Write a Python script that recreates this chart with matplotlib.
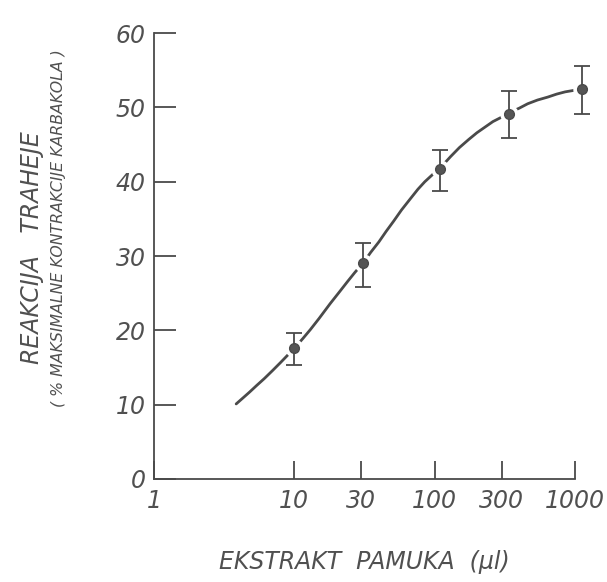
import numpy as np
import matplotlib
matplotlib.use("Agg")
import matplotlib.pyplot as plt

# measured points (extract volume in ul, tracheal response %)
dose = [10, 31, 110, 340, 1130]
resp = [17.6, 29.1, 41.7, 49.1, 52.5]
err_lo = [2.2, 3.3, 3.0, 3.2, 3.4]
err_hi = [2.1, 2.7, 2.6, 3.1, 3.1]

# fitted curve
curve_x = [3.85, 4.3, 4.8, 5.4, 6.1, 7.0, 8.0, 9.0, 10, 11.5, 13, 15, 18, 21,
           24, 27, 31, 35, 40, 45, 51, 58, 67, 76, 85, 97, 110, 130, 150, 175,
           200, 230, 260, 300, 340, 400, 460, 540, 640, 740, 850, 980, 1130]
curve_y = [10.1, 10.9, 11.7, 12.6, 13.5, 14.6, 15.7, 16.7, 17.6, 18.9, 20.1,
           21.6, 23.6, 25.2, 26.6, 27.8, 29.1, 30.5, 31.9, 33.3, 34.7, 36.2,
           37.7, 39.0, 40.0, 41.0, 41.9, 43.4, 44.6, 45.7, 46.6, 47.4, 48.1,
           48.7, 49.3, 49.9, 50.5, 51.0, 51.4, 51.8, 52.1, 52.3, 52.5]

xticks = [1, 10, 30, 100, 300, 1000]
xtick_labels = ["1", "10", "30", "100", "300", "1000"]
yticks = [0, 10, 20, 30, 40, 50, 60]

ink = "#4a4a4a"
txt = "#505050"
plt.rcParams["font.family"] = "DejaVu Sans"

fig = plt.figure(figsize=(6.07, 5.82), dpi=100)
ax = fig.add_axes([0.2537, 0.177, 0.6936, 0.766])

ax.plot(curve_x, curve_y, color=ink, lw=2.0, clip_on=False, zorder=2,
        solid_capstyle="round")
# small white gap of the curve around each point
ax.scatter(dose, resp, s=150, color="white", zorder=3, clip_on=False)
ax.errorbar(dose, resp, yerr=[err_lo, err_hi], fmt="o", color=ink,
            ms=7, mfc="#555555", mec=ink, elinewidth=1.3, capsize=6,
            capthick=1.3, zorder=4, clip_on=False)

ax.set_xscale("log")
ax.set_xlim(1, 1000)
ax.set_ylim(0, 60)
ax.set_xticks(xticks)
ax.set_xticklabels(xtick_labels)
ax.minorticks_off()
ax.set_yticks(yticks)

for s in ["top", "right"]:
    ax.spines[s].set_visible(False)
for s in ["left", "bottom"]:
    ax.spines[s].set_color(ink)
    ax.spines[s].set_linewidth(1.3)

ax.tick_params(axis="y", direction="in", length=16, width=1.3, color=ink,
               pad=6, labelsize=17, labelcolor=txt)
ax.tick_params(axis="x", direction="in", length=13, width=1.3, color=ink,
               pad=7, labelsize=17, labelcolor=txt)
for lab in ax.get_xticklabels() + ax.get_yticklabels():
    lab.set_style("italic")
    lab.set_fontweight("light")

ax.set_xlabel("EKSTRAKT  PAMUKA  (μl)", fontsize=17, style="italic",
              color=txt, labelpad=27)

fig.text(0.053, 0.574, "REAKCIJA   TRAHEJE", rotation=90, fontsize=17,
         style="italic", color=txt, ha="center", va="center")
fig.text(0.096, 0.608, "( % MAKSIMALNE KONTRAKCIJE KARBAKOLA )", rotation=90,
         fontsize=11.3, style="italic", color=txt, ha="center", va="center")

fig.savefig("out.png", dpi=100, facecolor="white")
